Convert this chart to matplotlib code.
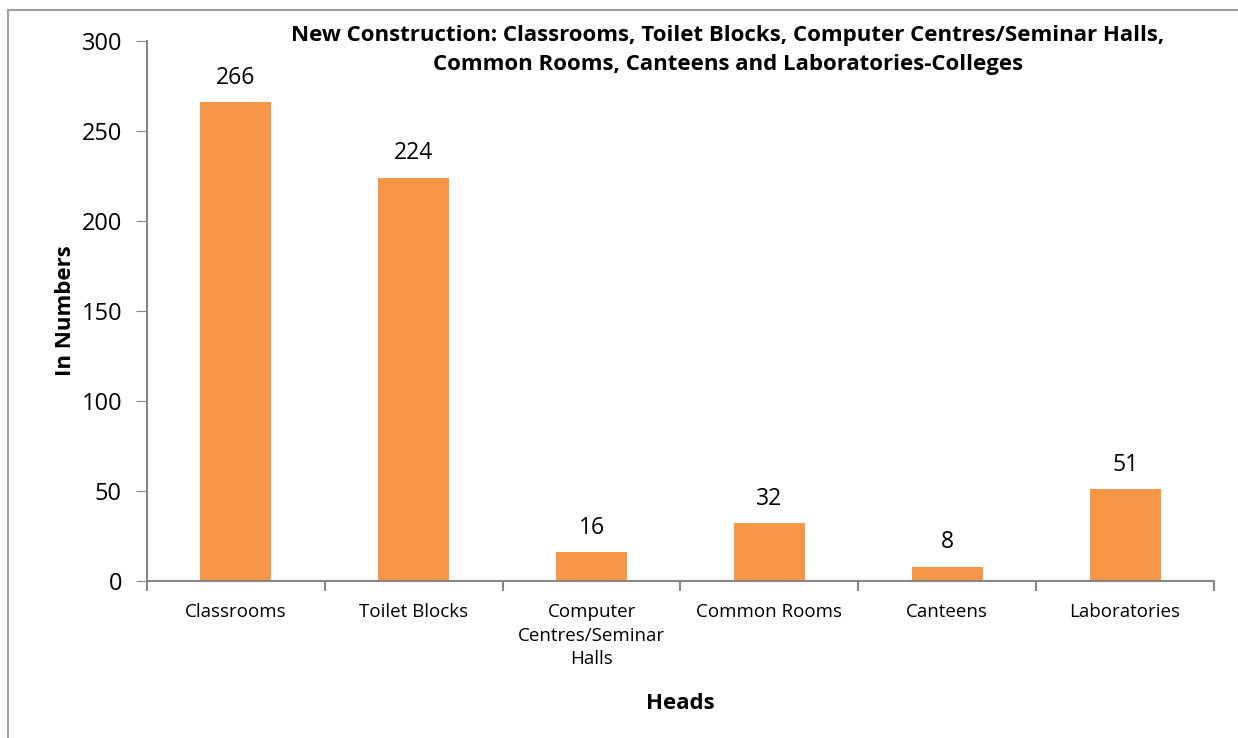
import matplotlib.pyplot as plt
from matplotlib.patches import Rectangle

categories = ["Classrooms", "Toilet Blocks", "Computer\nCentres/Seminar\nHalls",
              "Common Rooms", "Canteens", "Laboratories"]
values = [266, 224, 16, 32, 8, 51]
y_ticks = [0, 50, 100, 150, 200, 250, 300]

plt.rcParams['font.family'] = ['Open Sans', 'DejaVu Sans']

fig = plt.figure(figsize=(12.38, 7.38), dpi=100)
ax = fig.add_axes([147 / 1238, 1 - 581 / 738, (1214 - 147) / 1238, (581 - 41) / 738])

# outer chart frame
fig.patches.append(Rectangle((8 / 1238, -0.1), 1.2, 1 - 10 / 738 + 0.1,
                             transform=fig.transFigure, fill=False,
                             edgecolor='#a0a0a0', linewidth=1.5))

x = list(range(len(categories)))
bars = ax.bar(x, values, width=0.4, color='#F79646')
for xi, v in zip(x, values):
    ax.text(xi, v + 7, str(v), ha='center', va='bottom', fontsize=16.5)

ax.set_xlim(-0.5, len(categories) - 0.5)
ax.set_ylim(0, 300)
ax.set_yticks(y_ticks)
ax.tick_params(axis='y', labelsize=17, length=8, color='#868686', pad=10)
ax.set_xticks(x)
ax.set_xticklabels(categories, fontsize=13.5, linespacing=1.4)
ax.tick_params(axis='x', length=0, pad=16)
ax.set_xticks([i - 0.5 for i in range(len(categories) + 1)], minor=True)
ax.tick_params(axis='x', which='minor', length=7, color='#868686', width=1.5)

for s in ['top', 'right']:
    ax.spines[s].set_visible(False)
for s in ['left', 'bottom']:
    ax.spines[s].set_color('#868686')
    ax.spines[s].set_linewidth(1.5)

ax.set_ylabel('In Numbers', fontsize=16, fontweight='bold', labelpad=4)
ax.set_xlabel('Heads', fontsize=16, fontweight='bold', labelpad=18)

fig.text(728 / 1238, 1 - 50 / 738,
         "New Construction: Classrooms, Toilet Blocks, Computer Centres/Seminar Halls,\n"
         "Common Rooms, Canteens and Laboratories-Colleges",
         ha='center', va='center', fontsize=16, fontweight='bold', linespacing=1.55)

fig.savefig('out.png', dpi=100)
